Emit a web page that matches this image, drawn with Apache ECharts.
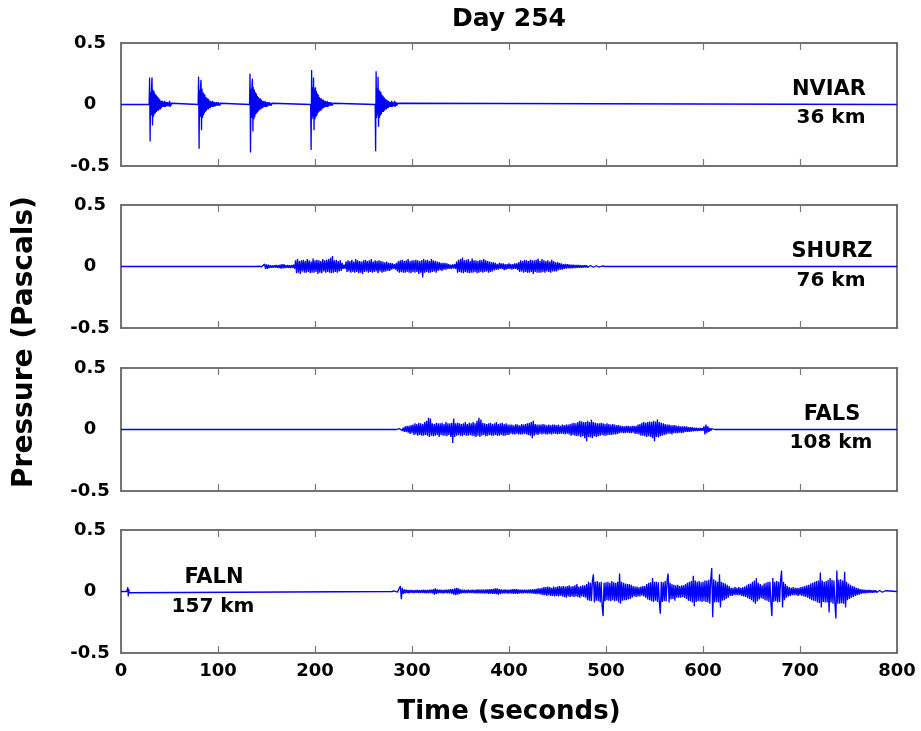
<!DOCTYPE html>
<html>
<head>
<meta charset="utf-8">
<script src="https://cdn.jsdelivr.net/npm/echarts@6/dist/echarts.min.js"></script>
<style>
html,body{margin:0;padding:0;background:#fff;}
#chart{width:921px;height:731px;background:#fff;}
</style>
</head>
<body>
<div id="chart"></div>
<script>
// ---------- DATA (Pressure in Pascals, time in seconds) ----------
const titleText = 'Day 254';
const xTicks = [0, 100, 200, 300, 400, 500, 600, 700, 800];
const yTicks = [-0.5, 0, 0.5];
const stations = ['NVIAR', 'SHURZ', 'FALS', 'FALN'];
const distances = ['36 km', '76 km', '108 km', '157 km'];

// NVIAR: five impulsive bursts, sampled every 0.5 s from each burst start
const nviarStep = 0.5;
const nviarBurstStarts = [29, 79.5, 132.5, 195.5, 262];
const nviarBurst1 = [0,.22,-.30,.10,-.09,.14,.22,-.17,.12,-.10,.11,-.08,.09,-.07,.08,-.06,.07,-.05,.06,-.05,.05,-.04,.04,-.04,.03,-.03,.03,-.02,.03,-.02,.02,-.02,.03,-.02,.02,-.015,.02,-.01,.02,-.015,.015,-.01,.03,-.02,.015,-.01,.01,0];
const nviarBurst2 = [0,.225,-.36,.12,-.10,.15,.20,-.21,.13,-.11,.10,-.09,.09,-.07,.08,-.06,.06,-.05,.05,-.04,.05,-.04,.04,-.03,.03,-.03,.03,-.02,.02,-.02,.03,-.02,.02,-.015,.02,-.015,.015,-.01,.02,-.01,.015,-.01,.02,-.01,.01,-.01,.01,0];
const nviarBurst3 = [0,.25,-.39,.13,-.11,.16,.21,-.22,.14,-.12,.12,-.10,.10,-.08,.09,-.07,.07,-.06,.06,-.05,.05,-.04,.05,-.04,.04,-.03,.03,-.03,.03,-.02,.02,-.02,.03,-.02,.02,-.02,.02,-.015,.015,-.01,.02,-.01,.015,-.01,.01,-.01,.01,0];
const nviarBurst4 = [0,-.37,.28,-.12,.14,-.10,.22,-.21,.13,-.12,.14,-.10,.11,-.09,.09,-.07,.08,-.06,.06,-.05,.05,-.05,.05,-.04,.04,-.03,.04,-.03,.03,-.02,.03,-.02,.02,-.02,.03,-.02,.02,-.015,.02,-.01,.015,-.01,.02,-.01,.01,-.01,.01,0];
const nviarBurst5 = [0,-.38,.27,-.11,.13,-.09,.225,-.18,.12,-.11,.11,-.09,.10,-.08,.08,-.06,.07,-.06,.06,-.05,.05,-.04,.04,-.04,.04,-.03,.03,-.03,.03,-.02,.02,-.02,.02,-.02,.03,-.02,.02,-.015,.015,-.01,.03,-.02,.02,-.01,.015,-.01,.01,0];
const nviarQuiet = [[0,0],[800,0]];

// SHURZ: continuous signal sampled every 1 s starting at 140 s
const shurzStart = 140, shurzStep = 1;
const shurzValues = [
 .003,-.003,.002,-.003,.003,-.002,
 .01,-.015,.02,-.02,.018,-.02,.015,-.012,.01,-.01,
 .008,-.01,.01,-.008,.012,-.01,.01,-.012,.015,-.018,
 .02,-.015,.018,-.012,.01,-.01,.012,-.01,.01,-.012,
 .012,-.01,.015,-.02,
 .05,-.055,.06,-.05,.045,-.06,.05,-.04,.055,-.05,
 .045,-.05,.06,-.045,.05,-.055,.04,-.05,.065,-.05,
 .05,-.045,.055,-.06,.05,-.05,.045,-.055,.06,-.04,
 .05,-.05,.055,-.045,.06,-.05,.07,-.055,.085,-.05,
 .05,-.045,.055,-.05,.045,-.04,.05,-.035,.03,
 -.02,.015,-.02,
 .04,-.045,.05,-.04,.045,-.05,.055,-.045,.04,-.05,
 .06,-.045,.05,-.055,.045,-.05,.04,-.06,.05,-.045,
 .055,-.04,.045,-.05,.05,-.045,.06,-.05,.04,-.045,
 .05,-.04,.045,-.055,.05,-.04,.045,-.05,.04,-.045,
 .035,-.04,.04,-.035,.03,-.035,.03,-.025,.025,-.02,
 .02,-.025,
 .03,-.04,.045,-.05,.05,-.045,.055,-.05,.045,-.05,
 .05,-.045,.06,-.05,.045,-.055,.05,-.045,.05,-.05,
 .055,-.045,.05,-.06,.045,-.05,.05,-.09,.06,-.05,
 .05,-.045,.055,-.05,.045,-.05,.06,-.045,.05,-.04,
 .045,-.05,.04,-.035,.035,-.03,.03,-.035,.03,-.025,
 .03,-.025,.025,-.02,.02,
 -.02,.015,-.02,.018,-.015,.02,-.02,
 .04,-.05,.055,-.045,.06,-.05,.073,-.055,.05,-.045,
 .055,-.05,.06,-.055,.045,-.05,.065,-.05,.05,-.045,
 .05,-.055,.045,-.05,.055,-.045,.05,-.05,.06,-.045,
 .05,-.04,.045,-.05,.04,-.045,.035,-.04,.035,-.03,
 .03,
 -.025,.02,-.025,.03,-.02,.025,-.02,.025,-.03,.02,
 -.025,.02,-.02,.025,-.02,.02,-.025,.02,-.02,.025,
 -.02,.025,-.03,.035,
 -.045,.05,-.04,.045,-.05,.055,-.045,.05,-.05,.045,
 -.05,.055,-.045,.05,-.06,.05,-.045,.055,-.05,.065,
 -.05,.045,-.05,.06,-.045,.05,-.05,.045,-.04,.05,
 -.045,.04,-.05,.055,-.04,.045,-.04,.035,-.04,.035,
 -.03,
 .03,-.025,.025,-.025,.02,-.02,.022,-.018,.02,-.016,
 .018,-.015,.015,-.014,.015,-.012,.013,-.012,.012,-.01,
 .012,-.01,.01,-.01,.01,-.009,.01,-.008,.009,-.008,
 .008,-.007,.008,-.007,.007,-.006,.007,-.006,.006,-.005,
 .006,-.005,
 .005,-.004,.004,-.004,.004,0
];
const shurzQuiet = [[0,0],[139,0],[500,0],[800,0]];

// FALS: continuous signal sampled every 1 s starting at 285 s
const falsStart = 285, falsStep = 1;
const falsValues = [
 .005,-.006,.008,-.007,.01,-.01,
 .015,-.02,.025,-.02,.03,-.025,.03,-.035,.035,-.03,
 .04,-.045,.05,-.04,.045,-.05,.055,-.045,.05,-.05,
 .045,-.05,.06,-.045,.07,-.05,.095,-.06,.09,-.05,
 .05,-.055,.045,-.05,.055,-.045,.05,-.06,.05,-.045,
 .055,-.05,.045,-.05,.06,-.055,.05,-.045,.05,-.06,
 .055,-.11,.09,-.06,.05,-.05,.055,-.045,.05,-.05,
 .045,-.055,.05,-.045,.06,-.05,.045,-.05,.055,-.045,
 .05,-.05,.06,-.055,.05,-.06,.07,-.05,.095,-.06,
 .08,-.05,.055,-.045,.05,-.055,.045,-.05,.05,-.045,
 .055,-.05,.045,-.05,.05,-.045,.06,-.05,.045,-.05,
 .05,-.045,.055,-.05,.045,-.05,.05,-.045,.04,-.045,
 .04,-.035,.04,-.04,.035,-.04,.045,-.035,.04,-.04,
 .035,-.04,.045,-.04,.04,-.035,.045,-.04,.05,-.045,
 .055,-.05,.06,-.07,.07,-.05,.045,-.04,.04,-.045,
 .04,-.035,.04,-.04,.045,-.035,.04,-.04,.035,-.04,
 .04,-.035,.035,-.04,.04,-.035,.04,-.035,.035,-.04,
 .04,-.035,.03,-.035,.04,-.035,.035,-.04,.04,-.035,
 .04,-.04,
 .045,-.05,.05,-.045,.055,-.05,.05,-.055,.06,-.05,
 .07,-.06,.065,-.055,.06,-.07,.06,-.095,.07,-.06,
 .06,-.065,.08,-.07,.06,-.055,.055,-.06,.05,-.055,
 .05,-.05,.055,-.045,.05,-.05,.045,-.05,.05,-.045,
 .045,-.045,.04,-.045,.045,-.04,.04,-.04,.035,-.035,
 .035,
 -.03,.03,-.025,.03,-.03,.025,-.03,.03,-.025,.03,
 -.03,.025,-.03,.03,-.025,.03,-.035,.03,-.035,.04,
 -.04,
 .045,-.05,.055,-.05,.06,-.055,.055,-.06,.06,-.055,
 .065,-.06,.06,-.07,.07,-.095,.065,-.06,.08,-.065,
 .06,-.055,.055,-.05,.05,-.045,.045,-.04,
 .04,-.035,.04,-.035,.035,-.04,.035,-.03,.035,-.03,
 .03,-.03,.03,-.025,.025,-.03,.025,-.025,.025,-.02,
 .025,-.02,.02,-.02,.02,-.018,.02,
 -.015,.015,-.012,.015,-.012,.012,-.01,.012,-.01,.012,-.01,
 .025,-.04,.04,-.03,.025,-.02,
 .012,-.01,.008,-.006,.006,0
];
const falsQuiet = [[0,0],[58,0],[59,.012],[59.5,-.012],[60,0],[98,0],[99,.01],[99.5,-.01],[100,0],
 [119,0],[120,.012],[120.5,-.012],[121,0],[184,0],[185,.01],[185.5,-.01],[186,0],
 [217,0],[218,.012],[218.5,-.012],[219,0],[242,0],[243,.015],[243.5,-.012],[244,0],[284,0],
 [613,0],[661,0],[662,.01],[662.5,-.01],[663,0],[735,0],[736,.01],[736.5,-.01],[737,0],
 [797,0],[798,.01],[798.5,-.01],[800,0]];

// FALN: continuous signal sampled every 1 s starting at 280 s
const falnStart = 280, falnStep = 1;
const falnValues = [
 .004,-.005,.004,-.004,.005,-.005,.004,-.006,
 .045,-.062,.03,
 -.02,.018,-.015,.015,-.012,.012,-.015,.012,-.01,.012,
 -.012,.01,-.012,.012,-.01,.012,-.012,.01,-.01,.012,
 -.012,.015,-.012,.012,-.015,.012,-.012,.015,-.012,.015,
 -.015,.02,-.025,.025,-.02,.018,-.015,.015,-.012,.015,
 -.015,.012,-.015,.015,-.012,.015,-.015,.018,-.015,.02,
 -.018,.02,-.025,.025,-.03,.03,-.025,.025,-.02,.018,
 -.015,.015,-.012,.015,-.015,.012,-.012,.015,-.012,.012,
 -.012,.015,-.012,.012,-.015,.015,-.015,.018,-.015,.015,
 -.015,.018,-.015,.015,-.018,.018,-.015,.018,-.02,.02,
 -.018,.02,-.02,.022,-.02,.025,-.022,.025,-.025,.02,
 -.02,.018,-.018,.015,-.015,.018,-.015,.015,-.018,.015,
 -.015,.018,-.018,.02,-.02,.02,-.018,.02,-.02,.018,
 -.015,.015,-.015,.015,-.015,.015,-.012,.015,-.015,.015,
 -.015,.018,-.015,.018,-.018,.02,-.02,.022,-.022,.025,
 -.02,.025,-.025,.03,
 -.03,.035,-.03,.035,-.035,.04,-.03,.035,-.035,.03,
 -.035,.04,-.04,.035,-.035,.04,-.04,.045,-.035,.04,
 -.04,.045,-.045,.04,-.05,.045,-.04,.05,-.045,.04,
 -.04,.045,-.045,.05,-.04,.06,-.045,.04,-.05,.045,
 -.04,.05,-.045,.05,-.05,
 .06,-.07,.08,-.075,.07,-.08,.09,.14,-.09,.08,
 -.075,.085,-.08,.075,-.09,.08,-.12,-.2,.07,-.08,
 .075,-.07,.08,-.075,.07,-.08,.085,-.07,.075,-.08,
 .07,-.075,.08,-.09,.146,-.1,.08,-.075,.07,-.07,
 .065,-.07,.06,-.065,.06,-.06,.055,-.05,
 .045,-.04,.04,-.045,.04,-.04,.035,-.04,.04,-.035,.045,-.04,.045,-.05,
 .06,-.065,.07,-.07,.075,-.08,.11,-.085,.08,-.075,
 .08,-.085,.075,-.09,-.18,.08,-.085,.075,-.08,.085,
 -.08,.09,.146,-.09,
 .07,-.065,.06,-.06,.055,-.075,.05,-.05,.055,-.05,.045,-.05,.05,-.045,.05,-.05,.06,
 -.06,.07,-.075,.08,-.08,.085,-.09,.127,-.12,.09,
 -.085,.08,-.08,.085,-.08,.075,-.085,.08,-.08,.09,
 -.085,.09,-.09,.095,-.1,.1,.19,-.21,
 .1,-.09,.09,-.085,.08,-.09,.14,-.13,.08,-.075,.07,-.07,.065,-.06,.055,-.05,.045,
 -.035,.03,-.035,.03,-.03,.035,-.03,.03,-.03,.035,-.03,.03,-.035,.035,-.04,.04,-.045,
 .05,-.055,.06,-.06,.065,-.07,.08,-.085,.09,-.1,.11,-.08,.07,-.065,.06,-.055,.05,
 -.06,.065,-.07,.07,-.075,.08,-.085,.08,-.09,-.2,
 .11,-.085,.08,-.08,.085,-.09,.08,-.085,.1,.17,-.13,.08,-.07,.06,
 -.05,.045,-.04,.035,-.035,.03,-.03,.035,-.03,.03,
 -.03,.03,-.035,.03,-.03,.035,-.035,.04,-.04,.045,
 -.045,.05,-.05,.055,
 -.06,.065,-.07,.07,-.075,.08,-.08,.085,-.09,.09,
 -.095,.155,-.13,.09,-.085,.08,-.09,.085,-.09,.095,
 -.17,.11,-.09,.095,-.1,.09,-.1,-.22,.17,-.1,
 .095,-.1,.1,-.095,.09,-.1,.16,-.13,
 .08,-.07,.065,-.06,.055,-.05,.045,-.045,.04,-.035,.03,-.03,.025,-.025,.02,-.02,.018,
 -.015,.015,-.015,.012,-.012,.012,-.01,.012,-.01,.01,
 -.01,.01,-.008,.01,-.008,.008,-.008,.008,-.007,.007,
 -.006,.007,-.006,.006,-.005,0
];
const falnQuiet = [[0,0],[6,0],[7,.035],[7.5,-.04],[8,.02],[8.5,-.01],[9,0],[279,0],[800,0]];

// ---------- BUILD ----------
function samples(start, step, values) {
  return values.map(function (v, i) { return [start + i * step, v]; });
}
function sortByTime(arr) { return arr.slice().sort(function (a, b) { return a[0] - b[0]; }); }

const nviarBursts = [nviarBurst1, nviarBurst2, nviarBurst3, nviarBurst4, nviarBurst5];
let nviarData = nviarQuiet.slice();
nviarBursts.forEach(function (b, k) { nviarData = nviarData.concat(samples(nviarBurstStarts[k], nviarStep, b)); });
const seriesData = [
  sortByTime(nviarData),
  sortByTime(shurzQuiet.concat(samples(shurzStart, shurzStep, shurzValues))),
  sortByTime(falsQuiet.concat(samples(falsStart, falsStep, falsValues))),
  sortByTime(falnQuiet.concat(samples(falnStart, falnStep, falnValues)))
];

const FONT = 'DejaVu Sans';
const gridTops = [43, 205, 368, 530];
const FRAME = '#454545';

const grids = [], xAxes = [], yAxes = [], series = [];
for (let i = 0; i < 4; i++) {
  grids.push({ left: 121, right: 24, top: gridTops[i], height: 123, show: false });
  const tk = () => ({ show: true, inside: true, length: 7, lineStyle: { color: '#777777', width: 1.2 } });
  const ln = () => ({ show: true, onZero: false, lineStyle: { color: FRAME, width: 1.5 } });
  xAxes.push({ type: 'value', gridIndex: i, min: xTicks[0], max: xTicks[xTicks.length - 1], interval: 100, position: 'bottom',
    axisLine: ln(), axisTick: tk(), splitLine: { show: false },
    axisLabel: { show: i === 3, fontWeight: 'bold', fontSize: 18, fontFamily: FONT, color: '#000', margin: 9 } });
  xAxes.push({ type: 'value', gridIndex: i, min: xTicks[0], max: xTicks[xTicks.length - 1], interval: 100, position: 'top',
    axisLine: ln(), axisTick: tk(), splitLine: { show: false }, axisLabel: { show: false } });
  yAxes.push({ type: 'value', gridIndex: i, min: yTicks[0], max: yTicks[yTicks.length - 1], interval: 0.5, position: 'left',
    axisLine: ln(), axisTick: { show: false }, splitLine: { show: false },
    axisLabel: { fontWeight: 'bold', fontSize: 18, fontFamily: FONT, color: '#000', margin: 31, align: 'center' } });
  yAxes.push({ type: 'value', gridIndex: i, min: yTicks[0], max: yTicks[yTicks.length - 1], interval: 0.5, position: 'right',
    axisLine: ln(), axisTick: { show: false }, splitLine: { show: false }, axisLabel: { show: false } });
  series.push({ type: 'line', xAxisIndex: 2 * i, yAxisIndex: 2 * i, data: seriesData[i],
    showSymbol: false, lineStyle: { color: '#0000ff', width: 1.3 } });
}

function txt(text, x, y, size, extra) {
  return Object.assign({ type: 'text', x: x, y: y, silent: true, z: 10,
    style: { text: text, fill: '#000', font: 'bold ' + size + 'px "DejaVu Sans", sans-serif', align: 'center', verticalAlign: 'middle' } }, extra || {});
}
const labelPos = [
  [[829, 90], [831, 118]],
  [[832, 252], [831, 281]],
  [[832, 415], [831, 443]],
  [[214, 578], [213, 607]]
];
const graphics = [
  txt(titleText, 509, 19, 25),
  txt('Time (seconds)', 509, 712, 26),
  txt('Pressure (Pascals)', 25, 342, 28, { rotation: Math.PI / 2 })
];
for (let i = 0; i < 4; i++) {
  graphics.push(txt(stations[i], labelPos[i][0][0], labelPos[i][0][1], 21));
  graphics.push(txt(distances[i], labelPos[i][1][0], labelPos[i][1][1], 20));
}

const chart = echarts.init(document.getElementById('chart'));
chart.setOption({ animation: false, grid: grids, xAxis: xAxes, yAxis: yAxes, series: series, graphic: graphics });
</script>
</body>
</html>
